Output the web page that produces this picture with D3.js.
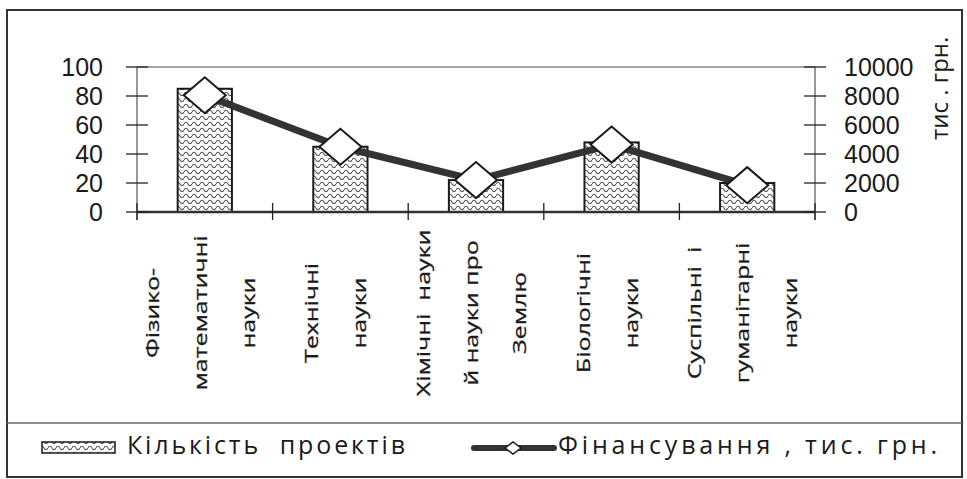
<!DOCTYPE html>
<html>
<head>
<meta charset="utf-8">
<script src="https://cdn.jsdelivr.net/npm/d3@7"></script>
<style>
  body { margin: 0; background: #fff; }
  text { font-family: "Open Sans", sans-serif; fill: #1a1a1a; white-space: pre; }
  .tick-label { font-family: "Liberation Sans", Arial, sans-serif; }
</style>
</head>
<body>
<div id="chart"></div>
<script>
// categories (lines as wrapped in the original chart)
const categories = ["Фізико-математичні науки", "Технічні науки", "Хімічні науки й науки про Землю", "Біологічні науки", "Суспільні і гуманітарні науки"];
const labelLines = [
    ["Фізико-", "математичні", "науки"],
    ["Технічні", "науки"],
    ["Хімічні  науки", "й науки про", "Землю"],
    ["Біологічні", "науки"],
    ["Суспільні  і", "гуманітарні", "науки"]
];
// Кількість проектів
const projects = [85, 45, 22, 48, 20];
// Фінансування, тис. грн.
const funding = [8050, 4500, 2200, 4650, 1850];
const leftTicks = [0, 20, 40, 60, 80, 100];
const rightTicks = [0, 2000, 4000, 6000, 8000, 10000];

const W = 967, H = 479;
const plot = { left: 137, right: 815, top: 67, bottom: 212 };

const svg = d3.select("#chart").append("svg")
    .attr("width", W)
    .attr("height", H);

//Заливка стовпців хвилями
const defs = svg.append("defs");
const pat = defs.append("pattern")
    .attr("id", "wave")
    .attr("patternUnits", "userSpaceOnUse")
    .attr("width", 8)
    .attr("height", 6);
pat.append("rect").attr("width", 8).attr("height", 6).attr("fill", "#fff");
pat.append("path")
    .attr("d", "M0,4 Q2,0.5 4,4 T8,4")
    .attr("fill", "none")
    .attr("stroke", "#555")
    .attr("stroke-width", 1.1);

//Рамка
svg.append("rect")
    .attr("x", 7).attr("y", 10)
    .attr("width", 955).attr("height", 467)
    .attr("fill", "none")
    .attr("stroke", "#333")
    .attr("stroke-width", 2);

const x = d3.scaleBand()
    .domain(categories)
    .range([plot.left, plot.right]);
const y = d3.scaleLinear().domain([0, 100]).range([plot.bottom, plot.top]);
const y2 = d3.scaleLinear().domain([0, 10000]).range([plot.bottom, plot.top]);

//Межі області побудови
svg.append("line")
    .attr("x1", plot.left).attr("x2", plot.right)
    .attr("y1", plot.top).attr("y2", plot.top)
    .attr("stroke", "#888").attr("stroke-width", 1.5);
svg.append("line")
    .attr("x1", plot.left).attr("x2", plot.left)
    .attr("y1", plot.top).attr("y2", plot.bottom + 8)
    .attr("stroke", "#777").attr("stroke-width", 1.5);
svg.append("line")
    .attr("x1", plot.right).attr("x2", plot.right)
    .attr("y1", plot.top).attr("y2", plot.bottom + 8)
    .attr("stroke", "#777").attr("stroke-width", 1.5);

//Стовпці
const bw = x.bandwidth() * 0.4;
svg.selectAll(".bar")
    .data(projects)
    .enter()
    .append("rect")
    .attr("class", "bar")
    .attr("x", (d, i) => x(categories[i]) + x.bandwidth() / 2 - bw / 2)
    .attr("y", d => y(d))
    .attr("width", bw)
    .attr("height", d => y(0) - y(d))
    .attr("fill", "url(#wave)")
    .attr("stroke", "#1a1a1a")
    .attr("stroke-width", 2);

//Вісь X
svg.append("line")
    .attr("x1", plot.left).attr("x2", plot.right)
    .attr("y1", plot.bottom).attr("y2", plot.bottom)
    .attr("stroke", "#333").attr("stroke-width", 2.5);
const bounds = d3.range(categories.length + 1).map(i => plot.left + i * x.step());
svg.selectAll(".xtick")
    .data(bounds)
    .enter()
    .append("line")
    .attr("x1", d => d).attr("x2", d => d)
    .attr("y1", plot.bottom - 9).attr("y2", plot.bottom + 8)
    .attr("stroke", "#222").attr("stroke-width", 1.3);

//Ліва вісь
const gl = svg.append("g");
gl.selectAll("line")
    .data(leftTicks)
    .enter()
    .append("line")
    .attr("x1", plot.left - 11).attr("x2", plot.left + 11)
    .attr("y1", d => y(d)).attr("y2", d => y(d))
    .attr("stroke", "#222").attr("stroke-width", 1.3);
gl.selectAll("text")
    .data(leftTicks)
    .enter()
    .append("text")
    .attr("class", "tick-label")
    .attr("x", 103)
    .attr("y", d => y(d))
    .attr("dy", "0.36em")
    .attr("text-anchor", "end")
    .attr("font-size", 25)
    .text(d => d);

//Права вісь
const gr = svg.append("g");
gr.selectAll("line")
    .data(rightTicks)
    .enter()
    .append("line")
    .attr("x1", plot.right - 11).attr("x2", plot.right + 11)
    .attr("y1", d => y2(d)).attr("y2", d => y2(d))
    .attr("stroke", "#222").attr("stroke-width", 1.3);
gr.selectAll("text")
    .data(rightTicks)
    .enter()
    .append("text")
    .attr("class", "tick-label")
    .attr("x", 844)
    .attr("y", d => y2(d))
    .attr("dy", "0.36em")
    .attr("font-size", 25)
    .text(d => d);
svg.append("text")
    .attr("transform", "translate(948,140) rotate(-90)")
    .attr("font-size", 24)
    .text("тис . грн.");

//Лінія фінансування
const line = d3.line()
    .x((d, i) => x(categories[i]) + x.bandwidth() / 2)
    .y(d => y2(d));
svg.append("path")
    .datum(funding)
    .attr("d", line)
    .attr("fill", "none")
    .attr("stroke", "#333")
    .attr("stroke-width", 7)
    .attr("stroke-linejoin", "round");

const diamond = "M-21,0L0,-18L21,0L0,18Z";
svg.selectAll(".marker")
    .data(funding)
    .enter()
    .append("path")
    .attr("class", "marker")
    .attr("transform", (d, i) => `translate(${x(categories[i]) + x.bandwidth() / 2},${y2(d)})`)
    .attr("d", diamond)
    .attr("fill", "#fff")
    .attr("stroke", "#1a1a1a")
    .attr("stroke-width", 2);

//Підписи категорій (повернуті, стиснуті по висоті)
const lineGap = 48;
categories.forEach((c, i) => {
    const lines = labelLines[i];
    const cx = x(c) + x.bandwidth() / 2;
    lines.forEach((t, j) => {
        const bx = cx + (j - (lines.length - 1) / 2) * lineGap + 2;
        svg.append("text")
            .attr("transform", `translate(${bx},313) rotate(-90) scale(1,0.72)`)
            .attr("text-anchor", "middle")
            .attr("font-size", 25)
            .attr("stroke", "#1a1a1a")
            .attr("stroke-width", 0.4)
            .text(t);
    });
});

//Легенда
svg.append("line")
    .attr("x1", 7).attr("x2", 962)
    .attr("y1", 423).attr("y2", 423)
    .attr("stroke", "#666").attr("stroke-width", 1.5);
svg.append("rect")
    .attr("x", 42).attr("y", 442)
    .attr("width", 73).attr("height", 11)
    .attr("fill", "url(#wave)")
    .attr("stroke", "#1a1a1a")
    .attr("stroke-width", 1.5);
svg.append("text")
    .attr("x", 127).attr("y", 454)
    .attr("font-size", 25)
    .attr("textLength", 278)
    .attr("lengthAdjust", "spacing")
    .text("Кількість  проектів");
svg.append("line")
    .attr("x1", 474).attr("x2", 554)
    .attr("y1", 448).attr("y2", 448)
    .attr("stroke", "#333")
    .attr("stroke-width", 6)
    .attr("stroke-linecap", "round");
svg.append("path")
    .attr("transform", "translate(513,448)")
    .attr("d", "M-8,0L0,-6L8,0L0,6Z")
    .attr("fill", "#fff")
    .attr("stroke", "#1a1a1a")
    .attr("stroke-width", 1.5);
svg.append("text")
    .attr("x", 558).attr("y", 454)
    .attr("font-size", 25)
    .attr("textLength", 379)
    .attr("lengthAdjust", "spacing")
    .text("Фінансування , тис. грн.");
</script>
</body>
</html>
